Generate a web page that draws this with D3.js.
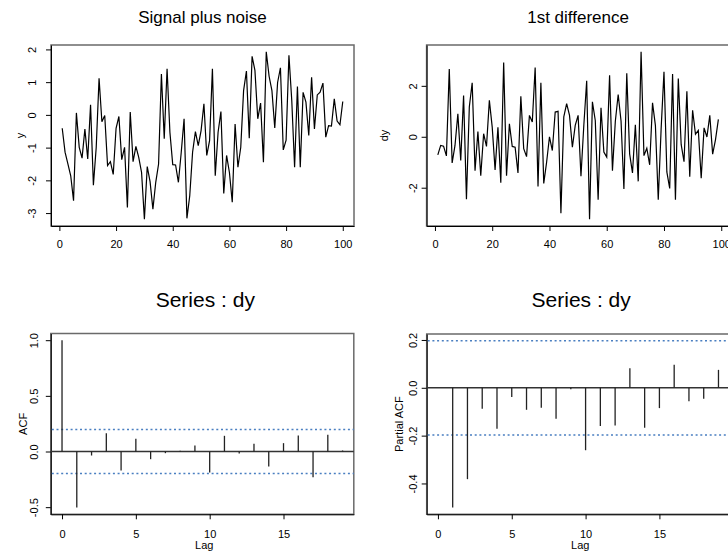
<!DOCTYPE html>
<html>
<head>
<meta charset="utf-8">
<script src="https://d3js.org/d3.v7.min.js"></script>
<style>
  body { margin: 0; background: #fff; }
  text { font-family: "Liberation Sans", Arial, Helvetica, sans-serif; fill: #000; }
</style>
</head>
<body>
<div id="chart"></div>
<script>
// values
let ySeries = [-0.41, -1.14, -1.5, -1.86, -2.62, 0.06, -0.99, -1.32, -0.43, -1.35,
  0.31, -2.15, -0.99, 1.12, -0.21, -0.02, -1.55, -1.43, -1.82, -0.41,
  -0.05, -1.37, -0.99, -2.83, 0.09, -1.43, -0.96, -1.3, -1.76, -3.19,
  -1.58, -2.04, -2.88, -2.06, -1.5, 1.25, -0.73, 1.41, -0.53, -1.52,
  -1.53, -2.06, -1.14, -0.12, -3.16, -2.47, -1.14, -0.51, -0.94, -0.48,
  0.34, -1.24, -0.79, 1.41, -1.86, -0.53, 0.1, -2.4, -1.24, -1.76,
  -2.67, -0.28, -1.6, -0.99, 0.74, 1.34, -0.71, 1.79, 1.36, -0.12,
  0.36, -1.45, 1.93, 1.18, 0.74, -0.4, 0.99, 1.44, -1.07, -0.77,
  1.82, 0.44, -1.6, 0.87, -1.6, 0.69, 0.39, -0.63, 1.15, -0.43,
  0.61, 0.69, 0.97, -0.68, -0.33, -0.34, 0.49, -0.19, -0.3, 0.41];

let dySeries = [-0.71, -0.34, -0.37, -0.75, 2.66, -1.03, -0.34, 0.9, -0.93, 1.62,
  -2.45, 1.17, 2.12, -1.33, 0.21, -1.53, 0.12, -0.38, 1.43, 0.38,
  -1.3, 0.37, -1.8, 2.92, -1.53, 0.51, -0.38, -0.41, -1.42, 1.59,
  -0.47, -0.78, 0.84, 0.58, 2.72, -1.95, 2.12, -1.83, -1.0, 0.0,
  -0.54, 0.97, 1.0, -3.0, 0.78, 1.3, 0.84, -0.41, 0.45, 0.84,
  -1.55, 0.45, 2.2, -3.24, 1.37, 0.64, -2.47, 1.14, -0.6, -0.8,
  2.41, -1.33, 0.6, 1.66, 0.62, -2.05, 2.49, -0.67, -1.42, 0.47,
  -1.75, 3.34, -0.74, -0.45, -1.1, 1.33, 0.45, -2.47, 0.3, 2.55,
  -1.38, -2.03, 2.46, -2.47, 2.29, -0.3, -0.98, 1.79, -1.57, 1.04,
  0.1, 0.25, -1.63, 0.35, -0.01, 0.84, -0.68, -0.11, 0.68];

let acfLags = [0, 1, 2, 3, 4, 5, 6, 7, 8, 9, 10, 11, 12, 13, 14, 15, 16, 17, 18, 19];
let acfValues = [1.0, -0.504, -0.036, 0.165, -0.171, 0.114, -0.069, -0.015, 0.006, 0.054,
  -0.189, 0.141, -0.018, 0.069, -0.135, 0.075, 0.144, -0.231, 0.15, 0.009];

let pacfLags = [1, 2, 3, 4, 5, 6, 7, 8, 9, 10, 11, 12, 13, 14, 15, 16, 17, 18, 19];
let pacfValues = [-0.501, -0.382, -0.088, -0.171, -0.039, -0.092, -0.083, -0.129, -0.006, -0.261,
  -0.16, -0.158, 0.082, -0.167, -0.085, 0.096, -0.056, -0.046, 0.075];

let confLimit = 0.197; // 2/sqrt(n)

let titles = ['Signal plus noise', '1st difference', 'Series : dy', 'Series : dy'];

let timeTicks = [0, 20, 40, 60, 80, 100];
let yTicks = [-3, -2, -1, 0, 1, 2];
let yTickLabels = ['-3', '-2', '-1', '0', '1', '2'];
let dyTicks = [-2, 0, 2];
let dyTickLabels = ['-2', '0', '2'];
let lagTicks = [0, 5, 10, 15];
let acfTicks = [-0.5, 0, 0.5, 1];
let acfTickLabels = ['-0.5', '0.0', '0.5', '1.0'];
let pacfTicks = [-0.4, -0.2, 0, 0.2];
let pacfTickLabels = ['-0.4', '-0.2', '0.0', '0.2'];

let width = 728;
let height = 555;

let svg = d3.select('#chart')
  .append('svg')
  .attr('width', width)
  .attr('height', height)
  .style('background-color', '#fff');

// R style: pad the data range by 4% on each side
function padRange(lo, hi) {
  let r = hi - lo;
  return [lo - 0.04 * r, hi + 0.04 * r];
}

// draws the frame + axes of one panel, returns the scales
function panel(box, xDomain, yDomain, opt) {
  let x = d3.scaleLinear().domain(xDomain).range([box.left, box.right]);
  let y = d3.scaleLinear().domain(yDomain).range([box.bottom, box.top]);

  // grey box around the plot
  svg.append('rect')
    .attr('x', box.left)
    .attr('y', box.top)
    .attr('width', box.right - box.left)
    .attr('height', box.bottom - box.top)
    .attr('fill', 'none')
    .attr('stroke', '#6a6a6a')
    .attr('stroke-width', 1.5);

  let xAxis = svg.append('g')
    .attr('transform', `translate(0,${box.bottom})`)
    .call(d3.axisBottom(x).tickValues(opt.xTicks).tickSize(5).tickSizeOuter(0).tickPadding(opt.xPad));
  xAxis.selectAll('text').style('font-size', '11px');

  let yAxis = svg.append('g')
    .attr('transform', `translate(${box.left},0)`)
    .call(d3.axisLeft(y).tickValues(opt.yTicks).tickSize(5).tickSizeOuter(0)
      .tickFormat(function(d, i) { return opt.yLabels[i]; }));
  // rotate the y tick labels like R does
  yAxis.selectAll('text')
    .attr('x', null)
    .attr('dy', null)
    .attr('text-anchor', 'middle')
    .attr('transform', `translate(${-opt.yOff},0) rotate(-90)`)
    .style('font-size', '11px');

  svg.selectAll('.domain').attr('stroke', '#000');

  let cx = (box.left + box.right) / 2;
  svg.append('text')
    .attr('x', cx + opt.titleShift)
    .attr('y', opt.titleY)
    .attr('text-anchor', 'middle')
    .style('font-size', opt.titleSize + 'px')
    .text(opt.title);

  // y axis title
  svg.append('text')
    .attr('transform', `translate(${opt.ylabX},${(box.top + box.bottom) / 2}) rotate(-90)`)
    .attr('text-anchor', 'middle')
    .style('font-size', '11px')
    .text(opt.ylab);

  if (opt.xlab) {
    svg.append('text')
      .attr('x', cx + 2)
      .attr('y', 549)
      .attr('text-anchor', 'middle')
      .style('font-size', '11px')
      .text(opt.xlab);
  }
  return { x: x, y: y };
}

function linePanel(box, data, ticks, labels, opt) {
  let xDom = padRange(1, data.length);
  let yDom = padRange(d3.min(data), d3.max(data));
  opt.yTicks = ticks;
  opt.yLabels = labels;
  opt.xTicks = timeTicks;
  let s = panel(box, xDom, yDom, opt);

  let line = d3.line()
    .x(function(d, i) { return s.x(i + 1); })
    .y(function(d) { return s.y(d); });

  svg.append('path')
    .datum(data)
    .attr('d', line)
    .attr('fill', 'none')
    .attr('stroke', '#000')
    .attr('stroke-width', 1.2)
    .attr('stroke-linejoin', 'miter');
}

function corrPanel(box, lags, vals, ticks, labels, opt) {
  let yDom = padRange(Math.min(d3.min(vals), -confLimit), Math.max(d3.max(vals), confLimit));
  opt.yTicks = ticks;
  opt.yLabels = labels;
  opt.xTicks = lagTicks;
  let s = panel(box, padRange(0, 19), yDom, opt);

  // zero line
  svg.append('line')
    .attr('x1', box.left).attr('x2', box.right)
    .attr('y1', s.y(0)).attr('y2', s.y(0))
    .attr('stroke', '#333')
    .attr('stroke-width', 1.6);

  // dotted confidence limits
  svg.selectAll(null)
    .data([confLimit, -confLimit])
    .enter()
    .append('line')
    .attr('x1', box.left + 1).attr('x2', box.right)
    .attr('y1', function(d) { return s.y(d); })
    .attr('y2', function(d) { return s.y(d); })
    .attr('stroke', '#4a7fc1')
    .attr('stroke-width', 1.5)
    .attr('stroke-dasharray', '2,2.7');

  // spikes
  svg.selectAll(null)
    .data(vals)
    .enter()
    .append('line')
    .attr('x1', function(d, i) { return s.x(lags[i]); })
    .attr('x2', function(d, i) { return s.x(lags[i]); })
    .attr('y1', s.y(0))
    .attr('y2', function(d) { return s.y(d); })
    .attr('stroke', '#222')
    .attr('stroke-width', 1.3);
}

linePanel({ left: 51, right: 354, top: 45, bottom: 226 }, ySeries, yTicks, yTickLabels,
  { title: titles[0], titleY: 23, titleSize: 17, titleShift: 0, xPad: 9, yOff: 15, ylab: 'y', ylabX: 24 });

linePanel({ left: 426.6, right: 729.6, top: 45, bottom: 226 }, dySeries, dyTicks, dyTickLabels,
  { title: titles[1], titleY: 23, titleSize: 17, titleShift: 0, xPad: 9, yOff: 9.5, ylab: 'dy', ylabX: 388 });

corrPanel({ left: 50.8, right: 353.8, top: 333.5, bottom: 514.3 }, acfLags, acfValues, acfTicks, acfTickLabels,
  { title: titles[2], titleY: 307, titleSize: 21, titleShift: 3, xPad: 11, yOff: 12.5, ylab: 'ACF', ylabX: 26.5, xlab: 'Lag' });

corrPanel({ left: 426.7, right: 729.7, top: 334, bottom: 514.3 }, pacfLags, pacfValues, pacfTicks, pacfTickLabels,
  { title: titles[3], titleY: 307, titleSize: 21, titleShift: 3, xPad: 11, yOff: 9.5, ylab: 'Partial ACF', ylabX: 403, xlab: 'Lag' });
</script>
</body>
</html>
